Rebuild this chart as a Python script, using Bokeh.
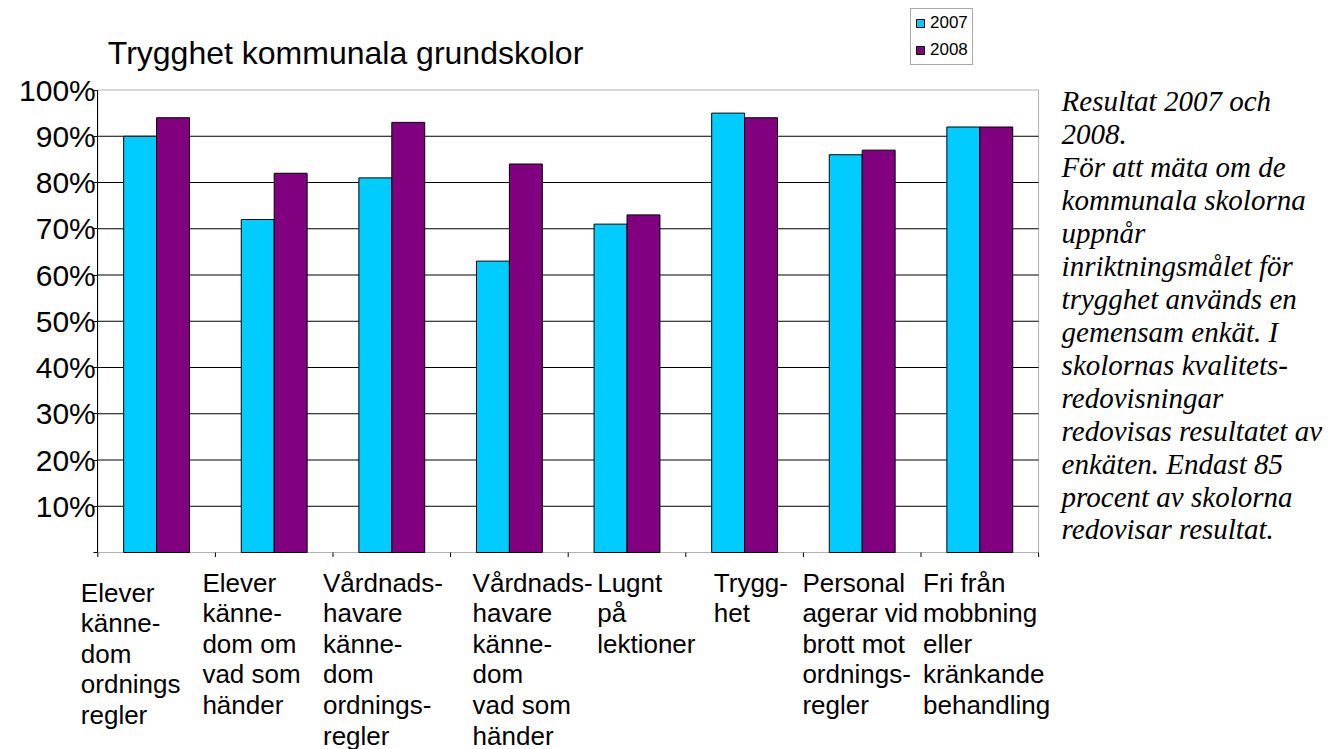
import numpy as np
from bokeh.plotting import figure
from bokeh.models import Range1d, FixedTicker, BoxAnnotation, Legend, LegendItem
from bokeh.core.properties import value
from bokeh.embed import file_html
from bokeh.resources import INLINE

# ---------------- data ----------------
chart_title = "Trygghet kommunala grundskolor"
categories = [
    "Elever\nkänne-\ndom\nordnings\nregler",
    "Elever\nkänne-\ndom om\nvad som\nhänder",
    "Vårdnads-\nhavare\nkänne-\ndom\nordnings-\nregler",
    "Vårdnads-\nhavare\nkänne-\ndom\nvad som\nhänder",
    "Lugnt\npå\nlektioner",
    "Trygg-\nhet",
    "Personal\nagerar vid\nbrott mot\nordnings-\nregler",
    "Fri från\nmobbning\neller\nkränkande\nbehandling",
]
series_names = ["2007", "2008"]
values_2007 = [90, 72, 81, 63, 71, 95, 86, 92]
values_2008 = [94, 82, 93, 84, 73, 94, 87, 92]
y_ticks = [0, 10, 20, 30, 40, 50, 60, 70, 80, 90, 100]
y_tick_labels = ["", "10%", "20%", "30%", "40%", "50%", "60%", "70%", "80%", "90%", "100%"]
note_lines = [
    "Resultat 2007 och",
    "2008.",
    "För att mäta om de",
    "kommunala skolorna",
    "uppnår",
    "inriktningsmålet för",
    "trygghet används en",
    "gemensam enkät. I",
    "skolornas kvalitets-",
    "redovisningar",
    "redovisas resultatet av",
    "enkäten. Endast 85",
    "procent av skolorna",
    "redovisar resultat.",
]

# ---------------- layout / style ----------------
W, H = 1330, 749
X0_PX = 97.3         # canvas px of plot-area left edge (category 0 boundary)
CAT_PX = 117.6       # px per category
ZERO_Y = 552         # canvas px of 0 %
PX_PER_PCT = 4.625   # px per percent
BAR_W = 0.28
COL_2007 = "#00CCFF"
COL_2008 = "#800080"
label_dx = [-17, -13, -10, 22, 29, 28, -1, 2]
label_dy = [25, 15, 15, 15, 15, 15, 15, 15]
SANS = "Liberation Sans"
SERIF = "Liberation Serif"

n = len(categories)
x_start = -X0_PX / CAT_PX
x_end = (W - X0_PX) / CAT_PX
y_start = -(H - ZERO_Y) / PX_PER_PCT
y_end = ZERO_Y / PX_PER_PCT

p = figure(width=W, height=H,
           x_range=Range1d(x_start, x_end), y_range=Range1d(y_start, y_end),
           output_backend="svg", toolbar_location=None,
           x_axis_location=None, y_axis_location="left",
           min_border_left=0, min_border_right=0,
           min_border_top=0, min_border_bottom=0)
p.outline_line_color = None
p.grid.visible = False
p.background_fill_color = "white"
p.border_fill_color = "white"

# y axis, pinned at the plot-area left edge
ya = p.yaxis[0]
ya.fixed_location = 0
ya.ticker = FixedTicker(ticks=y_ticks, minor_ticks=[])
ya.major_label_overrides = {t: lab for t, lab in zip(y_ticks, y_tick_labels)}
ya.bounds = (0, 100)
ya.major_tick_out = 4
ya.major_tick_in = 0
ya.minor_tick_out = 0
ya.minor_tick_in = 0
ya.major_label_standoff = -2
ya.major_label_text_font = SANS
ya.major_label_text_font_size = "30px"
ya.major_label_text_color = "black"
ya.axis_line_color = "black"
ya.major_tick_line_color = "black"

# gridlines (inside plot area only)
grid_vals = y_ticks[1:-1]
p.segment(x0=[0] * len(grid_vals), x1=[n] * len(grid_vals),
          y0=grid_vals, y1=grid_vals, line_color="black", line_width=1)

# bars
centers = np.arange(n) + 0.5
r07 = p.vbar(x=centers - BAR_W / 2, top=values_2007, bottom=0, width=BAR_W,
             fill_color=COL_2007, line_color="black", line_width=1)
r08 = p.vbar(x=centers + BAR_W / 2, top=values_2008, bottom=0, width=BAR_W,
             fill_color=COL_2008, line_color="black", line_width=1)

# plot-area border
p.add_layout(BoxAnnotation(left=0, right=n, bottom=0, top=100,
                           fill_alpha=0, line_color="black", line_width=1))

# category boundary ticks
bx = np.arange(n + 1)
tick_len = 4.5 / PX_PER_PCT
p.segment(x0=bx, x1=bx, y0=[0] * (n + 1), y1=[-tick_len] * (n + 1),
          line_color="black", line_width=1)

# category labels
p.text(x=np.arange(n), y=[0] * n, text=categories,
       x_offset=label_dx, y_offset=label_dy,
       text_align="left", text_baseline="top",
       text_font=value(SANS), text_font_size="26px",
       text_line_height=1.02, text_color="black")

# chart title
p.text(x=[0], y=[100], text=[chart_title], x_offset=10, y_offset=-37.4,
       text_align="left", text_baseline="alphabetic",
       text_font=value(SANS), text_font_size="32px", text_color="black")

# side note
p.text(x=[n], y=[100], text=["\n".join(note_lines)], x_offset=23, y_offset=-5,
       text_align="left", text_baseline="top",
       text_font=value(SERIF), text_font_style="italic",
       text_font_size="29px", text_line_height=1.03, text_color="black")

# legend
legend = Legend(items=[LegendItem(label=series_names[0], renderers=[r07]),
                       LegendItem(label=series_names[1], renderers=[r08])],
                location=(910, 684), orientation="vertical",
                padding=4, spacing=7, margin=0,
                glyph_width=10, glyph_height=10, label_height=20,
                label_standoff=5, label_text_font=SANS,
                label_text_font_size="17px", label_text_color="black",
                border_line_color="#555555", border_line_width=1,
                background_fill_color="white", background_fill_alpha=1)
p.add_layout(legend)

open("out.html", "w").write(file_html(p, INLINE))
